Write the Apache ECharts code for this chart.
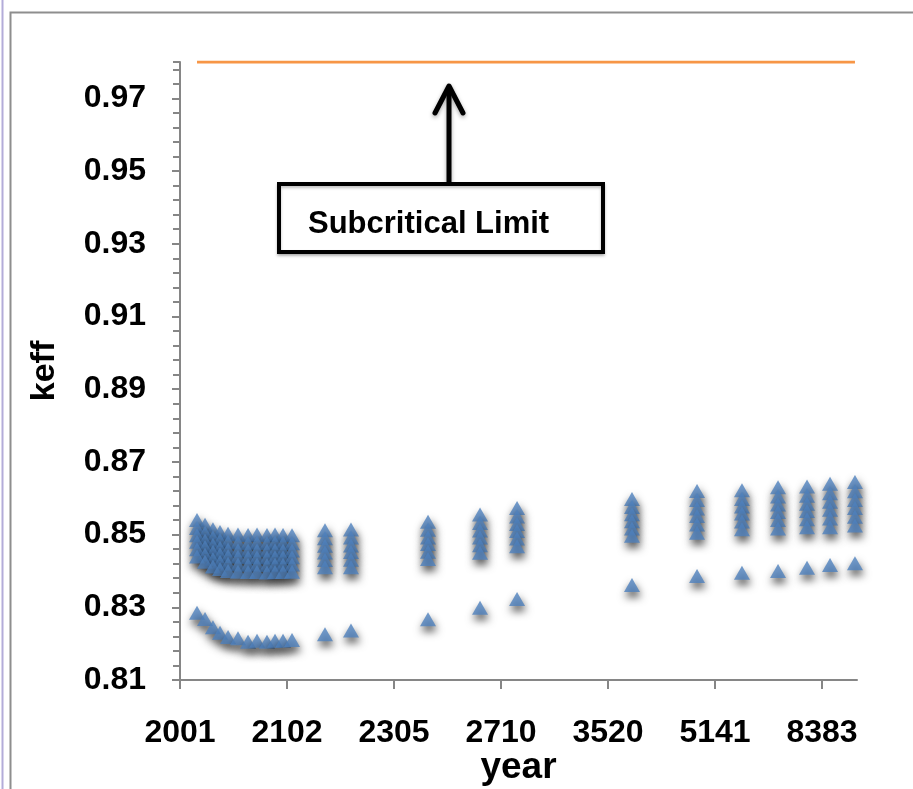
<!DOCTYPE html>
<html>
<head>
<meta charset="utf-8">
<script src="https://cdn.jsdelivr.net/npm/echarts@6/dist/echarts.min.js"></script>
<style>
html,body{margin:0;padding:0;background:#fff;}
#chart{width:913px;height:789px;}
</style>
</head>
<body>
<div id="chart"></div>
<script>
// Tick labels on the x axis (one per major tick)
const tickLabels = ['2001', '2102', '2305', '2710', '3520', '5141', '8383'];
// Horizontal position of each time column, in units of major tick intervals
const xPos = [0.159, 0.234, 0.308, 0.374, 0.449, 0.542, 0.636, 0.720, 0.813, 0.888, 0.963, 1.047,
              1.355, 1.598, 2.318, 2.804, 3.150, 4.224, 4.832, 5.252, 5.589, 5.860, 6.075, 6.308];
// keff values of the upper group (highest to lowest)
const upper1 = [0.8540, 0.8527, 0.8515, 0.8507, 0.8502, 0.8500, 0.8499, 0.8500, 0.8499, 0.8500, 0.8499, 0.8498,
                0.8512, 0.8514, 0.8535, 0.8555, 0.8573, 0.8598, 0.8620, 0.8622, 0.8630, 0.8632, 0.8640, 0.8645];
const upper2 = [0.8518, 0.8505, 0.8493, 0.8485, 0.8480, 0.8478, 0.8477, 0.8478, 0.8477, 0.8478, 0.8477, 0.8476,
                0.8490, 0.8492, 0.8513, 0.8532, 0.8550, 0.8576, 0.8595, 0.8598, 0.8605, 0.8607, 0.8614, 0.8619];
const upper3 = [0.8498, 0.8484, 0.8472, 0.8464, 0.8459, 0.8457, 0.8456, 0.8457, 0.8456, 0.8457, 0.8456, 0.8456,
                0.8469, 0.8470, 0.8492, 0.8511, 0.8529, 0.8556, 0.8572, 0.8577, 0.8583, 0.8585, 0.8590, 0.8595];
const upper4 = [0.8480, 0.8466, 0.8453, 0.8446, 0.8441, 0.8439, 0.8438, 0.8438, 0.8437, 0.8438, 0.8438, 0.8438,
                0.8451, 0.8452, 0.8474, 0.8492, 0.8510, 0.8537, 0.8551, 0.8558, 0.8562, 0.8565, 0.8568, 0.8573];
const upper5 = [0.8460, 0.8445, 0.8433, 0.8425, 0.8420, 0.8418, 0.8417, 0.8418, 0.8416, 0.8418, 0.8417, 0.8418,
                0.8430, 0.8431, 0.8453, 0.8471, 0.8489, 0.8517, 0.8528, 0.8536, 0.8540, 0.8542, 0.8544, 0.8549];
const upper6 = [0.8440, 0.8425, 0.8412, 0.8405, 0.8400, 0.8398, 0.8397, 0.8397, 0.8396, 0.8397, 0.8397, 0.8398,
                0.8410, 0.8410, 0.8433, 0.8450, 0.8468, 0.8497, 0.8505, 0.8515, 0.8517, 0.8520, 0.8520, 0.8525];
// keff values of the lower group
const lower = [0.8285, 0.8268, 0.8245, 0.8230, 0.8218, 0.8215, 0.8205, 0.8208, 0.8205, 0.8208, 0.8208, 0.8210,
               0.8226, 0.8236, 0.8267, 0.8299, 0.8323, 0.8361, 0.8386, 0.8395, 0.8400, 0.8409, 0.8416, 0.8421];
// Subcritical limit
const limitValue = 0.98;
const annotationText = 'Subcritical Limit';

const chart = echarts.init(document.getElementById('chart'));

function pts(arr) { return arr.map((v, i) => [xPos[i], v]); }
function scatter(name, arr) {
  return {
    name: name, type: 'scatter', symbol: 'triangle', symbolSize: [16, 14],
    data: pts(arr),
    itemStyle: {
      color: '#4F81BD',
      shadowColor: 'rgba(0,0,0,0.9)',
      shadowBlur: 9,
      shadowOffsetX: 1,
      shadowOffsetY: 5
    },
    emphasis: { disabled: true }, silent: true
  };
}

const greyAxis = { color: '#868686', width: 2 };
const labelFont = "'Liberation Sans', Arial, sans-serif";

chart.setOption({
  animation: false,
  backgroundColor: '#ffffff',
  grid: { left: 180, right: 56, top: 62, bottom: 109, containLabel: false, outerBoundsMode: 'none' },
  xAxis: {
    type: 'value', min: 0, max: 6.327, interval: 1,
    axisLine: { show: true, lineStyle: greyAxis },
    axisTick: { show: true, length: 9, lineStyle: greyAxis },
    splitLine: { show: false },
    axisLabel: {
      show: true, margin: 37, color: '#000', fontSize: 32, fontWeight: 'bold',
      fontFamily: labelFont,
      showMaxLabel: false,
      formatter: v => {
        const r = Math.round(v);
        return Math.abs(v - r) < 1e-6 && tickLabels[r] ? tickLabels[r] : '';
      }
    },
    name: 'year', nameLocation: 'middle', nameGap: 69, nameMoveOverlap: false,
    nameTextStyle: { color: '#000', fontSize: 37, fontWeight: 'bold', fontFamily: labelFont }
  },
  yAxis: [{
    type: 'value', min: 0.81, max: 0.98, interval: 0.02,
    axisLine: { show: true, lineStyle: greyAxis },
    axisTick: { show: true, length: 8, lineStyle: greyAxis },
    splitLine: { show: false },
    axisLabel: {
      show: true, margin: 34, color: '#000', fontSize: 32, fontWeight: 'bold',
      fontFamily: labelFont, showMaxLabel: false,
      formatter: v => v.toFixed(2)
    },
    name: 'keff', nameLocation: 'middle', nameGap: 118,
    nameTextStyle: { color: '#000', fontSize: 34, fontWeight: 'bold', fontFamily: labelFont }
  }, {
    type: 'value', min: 0.81, max: 0.98, interval: 0.004, position: 'left',
    axisLine: { show: false },
    axisTick: { show: true, length: 7, lineStyle: greyAxis },
    axisLabel: { show: false },
    splitLine: { show: false }
  }],
  series: [
    {
      name: 'Subcritical Limit', type: 'line', yAxisIndex: 0,
      data: [[xPos[0], limitValue], [xPos[xPos.length - 1], limitValue]],
      showSymbol: false, symbol: 'none',
      lineStyle: { color: '#F79646', width: 3 }, silent: true
    },
    scatter('s1', upper1),
    scatter('s2', upper2),
    scatter('s3', upper3),
    scatter('s4', upper4),
    scatter('s5', upper5),
    scatter('s6', upper6),
    scatter('lower', lower)
  ],
  graphic: [
    { type: 'line', shape: { x1: 2.5, y1: 0, x2: 2.5, y2: 789 }, style: { stroke: '#b3acd9', lineWidth: 2 } },
    { type: 'polyline', shape: { points: [[10.5, 789], [10.5, 12.5], [913, 12.5]] },
      style: { stroke: '#8e8e8e', lineWidth: 2, fill: null } },
    { type: 'line', shape: { x1: 449, y1: 183, x2: 449, y2: 86 },
      style: { stroke: '#000', lineWidth: 5, shadowBlur: 4, shadowColor: 'rgba(0,0,0,0.35)', shadowOffsetY: 2 } },
    { type: 'polyline', shape: { points: [[435, 113], [449, 86], [463, 113]] },
      style: { stroke: '#000', lineWidth: 5, lineCap: 'round', lineJoin: 'round', fill: null,
               shadowBlur: 4, shadowColor: 'rgba(0,0,0,0.35)', shadowOffsetY: 2 } },
    { type: 'rect', shape: { x: 279, y: 184, width: 324, height: 68 },
      style: { fill: '#fff', stroke: '#000', lineWidth: 4, shadowBlur: 3, shadowColor: 'rgba(0,0,0,0.25)', shadowOffsetY: 2 } },
    { type: 'text', x: 308, y: 224,
      style: { text: annotationText, fill: '#000', font: "bold 31px 'Liberation Sans', Arial, sans-serif",
               verticalAlign: 'middle', textAlign: 'left' } }
  ]
});
</script>
</body>
</html>
